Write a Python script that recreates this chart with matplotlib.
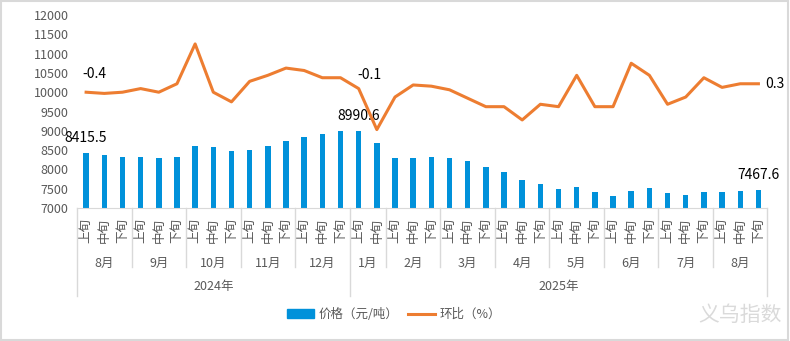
import numpy as np
import matplotlib
matplotlib.use("Agg")
import matplotlib.pyplot as plt
from matplotlib.patches import Rectangle, Patch
from matplotlib.lines import Line2D
import matplotlib.transforms as mtransforms

plt.rcParams['font.family'] = ['Noto Sans CJK SC', 'DejaVu Sans']

# data
periods = ["上旬", "中旬", "下旬"] * 5 + ["上旬", "中旬"] + ["上旬", "中旬", "下旬"] * 7
months = ["8月", "9月", "10月", "11月", "12月", "1月", "2月", "3月", "4月", "5月", "6月", "7月", "8月"]
month_counts = [3, 3, 3, 3, 3, 2, 3, 3, 3, 3, 3, 3, 3]
years = ["2024年", "2025年"]
year_counts = [15, 23]

price = [8415.5, 8373, 8321, 8321, 8295, 8321, 8606, 8580, 8477, 8503, 8606, 8736,
         8839, 8917, 8985, 8990.6, 8684, 8295, 8295, 8321, 8295, 8218, 8062, 7933,
         7725, 7622, 7492, 7544, 7415, 7311, 7440, 7518, 7389, 7337, 7415, 7415,
         7440, 7467.6]
mom = [-0.4, -0.5, -0.4, -0.1, -0.4, 0.3, 3.6, -0.4, -1.2, 0.5, 1.0, 1.6, 1.4,
       0.8, 0.8, -0.1, -3.5, -0.8, 0.2, 0.1, -0.2, -0.9, -1.6, -1.6, -2.7, -1.4,
       -1.6, 1.0, -1.6, -1.6, 2.0, 1.0, -1.4, -0.8, 0.8, 0.0, 0.3, 0.3]
price_label_idx = [0, 15, 37]
mom_label_idx = [0, 15, 37]

BLUE = "#0091DA"
ORANGE = "#ED7D31"
GRAY_TXT = "#595959"
GRAY_LN = "#D9D9D9"

fig = plt.figure(figsize=(7.9, 3.41), dpi=100)
ax = fig.add_axes([0.0975, 0.390, 0.874, 0.566])
x = np.arange(len(price))

ax.bar(x, price, width=0.3, color=BLUE, zorder=2)
ax.set_ylim(7000, 12000)
ax.set_yticks(np.arange(7000, 12001, 500))
ax.set_xlim(-0.5, len(price) - 0.5)
ax.tick_params(axis='y', length=0, pad=6, labelsize=9, labelcolor=GRAY_TXT)
ax.set_xticks(x)
ax.set_xticklabels(periods, rotation=90, fontsize=9, color=GRAY_TXT)
ax.tick_params(axis='x', length=0, pad=7)
for s in ["left", "right", "top"]:
    ax.spines[s].set_visible(False)
ax.spines["bottom"].set_color(GRAY_LN)

for i in price_label_idx:
    ax.annotate(f"{price[i]:.1f}", (x[i], price[i]), xytext=(0, 8), textcoords="offset points",
                ha="center", va="baseline", fontsize=10, color="black")

ax2 = ax.twinx()
ax2.plot(x, mom, color=ORANGE, lw=2.2, zorder=3)
ax2.set_ylim(-10, 6)
ax2.axis("off")
offsets = {0: (6, 8), 15: (8, 5), 37: (5, 0)}
for i in mom_label_idx:
    dx, dy = offsets[i]
    ha = "left" if i == len(mom) - 1 else "center"
    va = "center" if i == len(mom) - 1 else "bottom"
    ax2.annotate(f"{mom[i]:.1f}", (x[i], mom[i]), xytext=(dx, dy), textcoords="offset points",
                 ha=ha, va=va, fontsize=10, color="black")

# multi-level category axis
trans = mtransforms.blended_transform_factory(ax.transData, ax.transAxes)
month_y, year_y = -0.304, -0.456
bounds = np.concatenate([[0], np.cumsum(month_counts)]) - 0.5
year_bounds = set(np.concatenate([[0], np.cumsum(year_counts)]) - 0.5)
for b in bounds:
    y1 = year_y if b in year_bounds else month_y
    ax.add_line(Line2D([b, b], [0, y1], transform=trans, color=GRAY_LN, lw=1, clip_on=False))
for m, lo, hi in zip(months, bounds[:-1], bounds[1:]):
    ax.text((lo + hi) / 2, -0.285, m, transform=trans, ha="center", va="center",
            fontsize=9, color=GRAY_TXT)
ybounds = np.concatenate([[0], np.cumsum(year_counts)]) - 0.5
for yname, lo, hi in zip(years, ybounds[:-1], ybounds[1:]):
    ax.text((lo + hi) / 2, -0.405, yname, transform=trans, ha="center", va="center",
            fontsize=9, color=GRAY_TXT)

handles = [Patch(color=BLUE, label="价格（元/吨）"),
           Line2D([], [], color=ORANGE, lw=2.2, label="环比（%）")]
fig.legend(handles=handles, loc="center", bbox_to_anchor=(0.499, 0.078), ncol=2,
           frameon=False, fontsize=9, handlelength=2.1, columnspacing=0.8,
           handletextpad=0.4, labelcolor=GRAY_TXT)

fig.text(0.937, 0.076, "义乌指数", ha="center", va="center", fontsize=15, color="#DADADA")
fig.patches.append(Rectangle((0.001, 0.002), 0.997, 0.995, transform=fig.transFigure,
                             fill=False, edgecolor=GRAY_LN, lw=1.5))

fig.savefig("out.png", dpi=100)
